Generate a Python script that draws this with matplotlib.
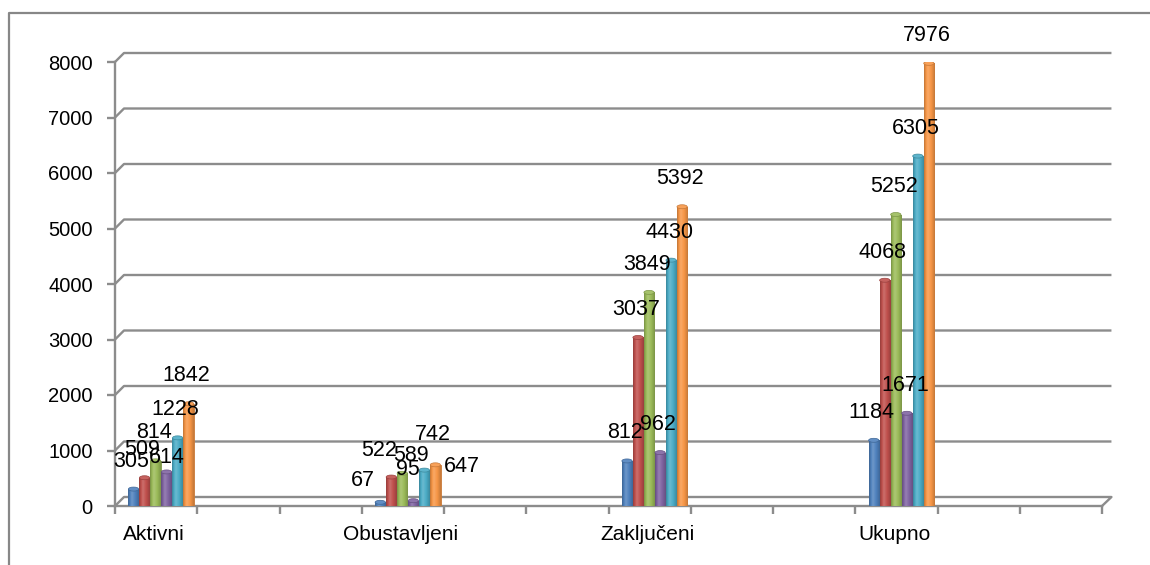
import numpy as np
import matplotlib
matplotlib.use("Agg")
import matplotlib.pyplot as plt
from matplotlib.lines import Line2D
from matplotlib.colors import to_rgb

# ---------------- data ----------------
categories = ["Aktivni", "Obustavljeni", "Zaključeni", "Ukupno"]
series_blue = [305, 67, 812, 1184]
series_red = [509, 522, 3037, 4068]
series_green = [814, 589, 3849, 5252]
series_purple = [614, 95, 962, 1671]
series_cyan = [1228, 647, 4430, 6305]
series_orange = [1842, 742, 5392, 7976]
y_ticks = [0, 1000, 2000, 3000, 4000, 5000, 6000, 7000, 8000]

series = [series_blue, series_red, series_green, series_purple, series_cyan, series_orange]
colors = ["#4F81BD", "#C0504D", "#9BBB59", "#8064A2", "#4BACC6", "#F79646"]

# label placement tweaks (pixels: dx right, dy up from value) - layout only
default_off = (-2, 28)
label_off = {
    (3, 0): (0, 14),
    (0, 1): (-17, 22), (1, 1): (-12, 27), (2, 1): (9, 18),
    (3, 1): (-5, 31), (4, 1): (38, 4), (5, 1): (-2, 30),
}

plt.rcParams["font.family"] = ["Liberation Sans", "DejaVu Sans"]

W, H = 1150, 565
fig = plt.figure(figsize=(W / 100, H / 100), dpi=100)
fig.patch.set_facecolor("white")

x0, x1, y0, y1 = 115, 1102, 506, 62
ax = fig.add_axes([x0 / W, 1 - y0 / H, (x1 - x0) / W, (y0 - y1) / H])
ax.set_xlim(0, 12)
ax.set_ylim(0, 8000)
ax.set_facecolor("none")

gray = "#8c8c8c"
px_x = (x1 - x0) / 12.0      # pixels per x unit
px_y = (y0 - y1) / 8000.0    # pixels per y unit
dxb = 9 / px_x               # back wall offset
dyb = 9 / px_y

# back wall gridlines with side-wall diagonals
for yv in y_ticks:
    if yv == 0:
        continue
    ax.add_line(Line2D([0, dxb, 12 + dxb * 1.05], [yv, yv + dyb, yv + dyb],
                       color=gray, lw=1.7, clip_on=False, zorder=1,
                       solid_capstyle="butt"))
# floor
ax.add_line(Line2D([0, dxb, 12 + dxb * 1.05, 12], [0, dyb, dyb, 0],
                   color=gray, lw=1.7, clip_on=False, zorder=1))

# axes styling
for s in ["top", "right"]:
    ax.spines[s].set_visible(False)
for s in ["left", "bottom"]:
    ax.spines[s].set_color(gray)
    ax.spines[s].set_linewidth(1.7)
ax.set_yticks(y_ticks)
ax.set_yticklabels([str(v) for v in y_ticks], fontsize=14.5)
ax.set_xticks(np.arange(0, 13, 1))
ax.set_xticklabels([])
ax.tick_params(axis="y", length=5.5, width=1.7, color=gray, pad=10.5)
ax.tick_params(axis="x", length=6, width=1.7, color=gray)

# bars
group_start = 0.158
pitch = 0.134
bw = 0.125
cat_x = np.arange(len(categories)) * 3


def shade(c, f):
    r = np.array(to_rgb(c))
    if f >= 1:
        return r + (1 - r) * (f - 1)
    return r * f


for j, (vals, c) in enumerate(zip(series, colors)):
    xs = cat_x + group_start + pitch * j + pitch / 2
    bars = ax.bar(xs, vals, width=bw, color=c, edgecolor=shade(c, 0.8),
                  linewidth=0.6, zorder=3)
    for b in bars:
        bx, bwid, bh = b.get_x(), b.get_width(), b.get_height()
        pos = np.linspace(0, 1, 40)
        fac = np.interp(pos, [0, 0.35, 1], [0.78, 1.18, 0.8])
        grad = np.array([shade(c, f) for f in fac])[None, :, :]
        im = ax.imshow(grad, extent=[bx, bx + bwid, 0, bh], aspect="auto",
                       zorder=3.5, interpolation="bilinear")
        im.set_clip_path(b)
        ax.add_patch(matplotlib.patches.Ellipse(
            (bx + bwid / 2, bh), bwid, 4 / px_y, facecolor=shade(c, 1.1),
            edgecolor=shade(c, 0.8), lw=0.5, zorder=3.6))
    for i, v in enumerate(vals):
        dx, dy = label_off.get((j, i), default_off)
        ax.annotate(str(v), xy=(xs[i], v), xytext=(dx * 0.72, dy * 0.72),
                    textcoords="offset points", ha="center", va="center",
                    fontsize=15.5, color="black", zorder=6,
                    annotation_clip=False)

ax.set_xlim(0, 12)
ax.set_ylim(0, 8000)

# category labels
for i, name in enumerate(categories):
    cx = cat_x[i] + group_start + pitch * 3 - 7 / px_x
    ax.text(cx, -28 / px_y, name, ha="center", va="center", fontsize=15,
            color="black", clip_on=False)

# outer frame (left and top edges visible)
fig.add_artist(Line2D([9 / W, 9 / W, 1.0], [0, 1 - 13 / H, 1 - 13 / H],
                      transform=fig.transFigure, color="#878787", lw=1.6))

fig.savefig("out.png", dpi=100, facecolor="white")
